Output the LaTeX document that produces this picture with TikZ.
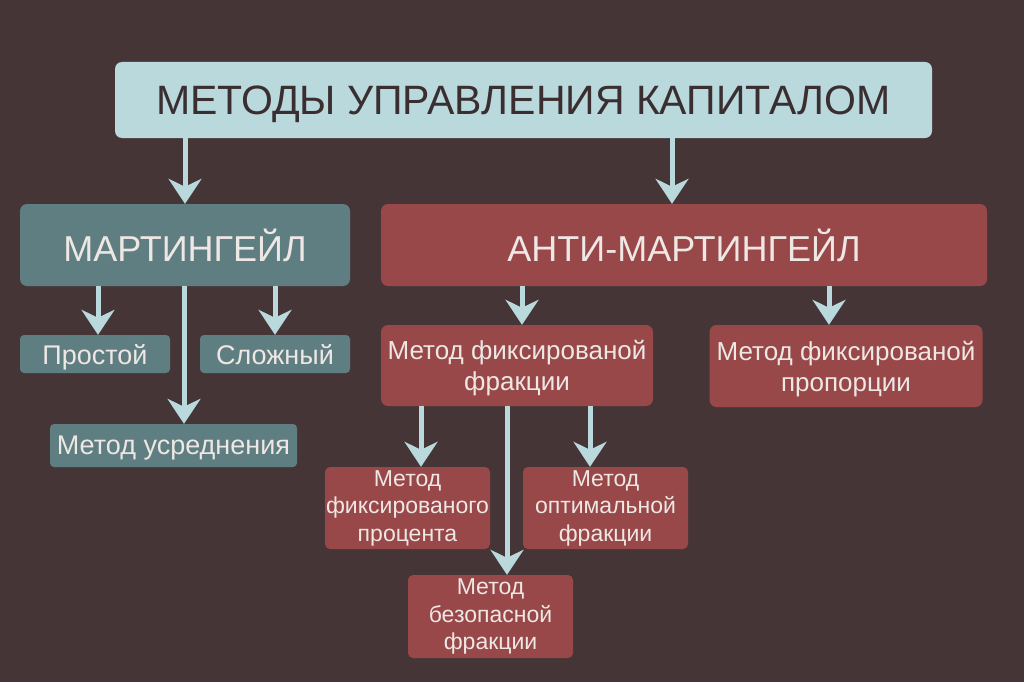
\documentclass[tikz,border=0pt]{standalone}
\usepackage{fontspec}
\setmainfont{Liberation Sans}
\usetikzlibrary{arrows.meta}
\definecolor{bg}{HTML}{463537}
\definecolor{lightb}{HTML}{B9D9DD}
\definecolor{teal}{HTML}{5F7E82}
\definecolor{redb}{HTML}{984849}
\definecolor{txtl}{HTML}{EEE7E4}
\definecolor{txtd}{HTML}{3A2E30}
\tikzset{
  box/.style={rounded corners=7pt, inner sep=0pt, align=center, text=txtl},
  topbox/.style={box, fill=lightb, text=txtd, text depth=0pt, font=\fontsize{41}{48}\selectfont},
  bigt/.style={box, fill=teal, text depth=0pt, font=\fontsize{36}{42}\selectfont},
  bigr/.style={box, fill=redb, text depth=0pt, font=\fontsize{36}{42}\selectfont},
  smt/.style={box, fill=teal, rounded corners=4pt, text depth=0pt, font=\fontsize{27}{32}\selectfont},
  midr/.style={box, fill=redb, text depth=0pt, font=\fontsize{26}{31}\selectfont},
  lowr/.style={box, fill=redb, rounded corners=5pt, font=\fontsize{23}{27.5}\selectfont},
  arr/.style={draw=lightb, line width=5pt, -{Stealth[length=25pt, width=33pt, inset=8pt]}}
}
\begin{document}
\begin{tikzpicture}[x=1pt, y=-1pt]
\fill[bg] (0,0) rectangle (1024,682);
\useasboundingbox (0,0) rectangle (1024,682);

\node[topbox, minimum width=817pt, minimum height=76pt] (top) at (523.5,100) {МЕТОДЫ УПРАВЛЕНИЯ КАПИТАЛОМ};
\node[bigt, minimum width=330pt, minimum height=82pt] (mart) at (185,245) {МАРТИНГЕЙЛ};
\node[bigr, minimum width=606pt, minimum height=82pt] (anti) at (684,245) {АНТИ-МАРТИНГЕЙЛ};

\node[smt, minimum width=150pt, minimum height=38pt] (prost) at (95,354) {Простой};
\node[smt, minimum width=150pt, minimum height=38pt] (slozh) at (275,354) {Сложный};
\node[smt, minimum width=247pt, minimum height=43pt] (usr) at (173.5,445.5) {Метод усреднения};

\node[midr, minimum width=272pt, minimum height=81pt] (ffr) at (517,365.5) {Метод фиксированой\\фракции};
\node[midr, minimum width=273pt, minimum height=82pt] (fpr) at (846,366) {Метод фиксированой\\пропорции};

\node[lowr, minimum width=165pt, minimum height=82pt] (fpc) at (407.5,508) {Метод\\фиксированого\\процента};
\node[lowr, minimum width=165pt, minimum height=82pt] (opt) at (605.5,508) {Метод\\оптимальной\\фракции};
\node[lowr, minimum width=165pt, minimum height=83pt] (bez) at (490.5,616.5) {Метод\\безопасной\\фракции};

\coordinate (xa) at (672,0);
\coordinate (xb) at (98,0);
\coordinate (xc) at (184,0);
\coordinate (xd) at (522,0);
\coordinate (xe) at (829,0);
\coordinate (xf) at (421,0);
\coordinate (xg) at (590,0);
\coordinate (xh) at (507,0);

\draw[arr] (top.south -| mart.north) -- (mart.north);
\draw[arr] (top.south -| xa) -- (anti.north -| xa);
\draw[arr] (mart.south -| xb) -- (prost.north -| xb);
\draw[arr] (mart.south -| slozh.north) -- (slozh.north);
\draw[arr] (mart.south -| xc) -- (usr.north -| xc);
\draw[arr] (anti.south -| xd) -- (ffr.north -| xd);
\draw[arr] (anti.south -| xe) -- (fpr.north -| xe);
\draw[arr] (ffr.south -| xf) -- (fpc.north -| xf);
\draw[arr] (ffr.south -| xg) -- (opt.north -| xg);
\draw[arr] (ffr.south -| xh) -- (bez.north -| xh);
\end{tikzpicture}
\end{document}
